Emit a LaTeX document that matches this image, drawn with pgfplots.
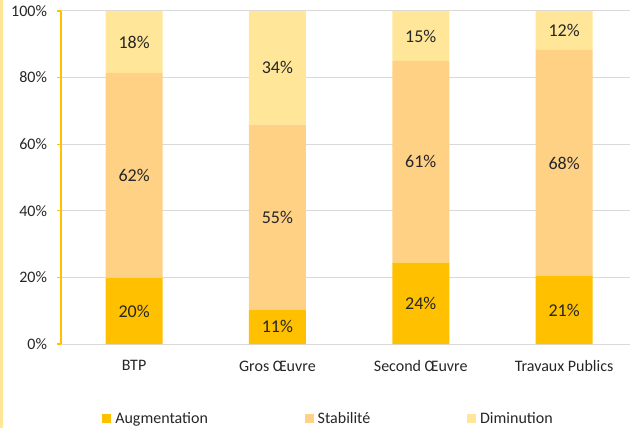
\documentclass[border=0pt]{standalone}
\usepackage{pgfplots}
\usepackage{pgfplotstable}
\pgfplotsset{compat=1.18}
\usepackage{fontspec}
\setmainfont{Carlito}
\definecolor{aug}{HTML}{FFC000}
\definecolor{stab}{HTML}{FFD185}
\definecolor{dim}{HTML}{FFE699}
\definecolor{gridc}{HTML}{D9D9D9}
\definecolor{txt}{HTML}{262626}
\pgfplotstableread{
x aug laug stab lstab dim ldim
0 19.8 20 61.6 62 18.6 18
1 10.3 11 55.6 55 34.1 34
2 24.4 24 60.6 61 15.0 15
3 20.4 21 67.9 68 11.7 12
}\data
\pgfplotsset{common/.style={
  at={(45.75pt,63pt)}, anchor=south west,
  scale only axis, width=426.75pt, height=249.75pt,
  xmin=-0.51, xmax=3.46, ymin=0, ymax=100,
  enlargelimits=false,
  /pgf/number format/assume math mode=true}}
\begin{document}
\begin{tikzpicture}
\path[use as bounding box] (0,0) rectangle (472.5pt,321pt);
\fill[dim] (0,0) rectangle (2.4pt,321pt);
\begin{axis}[
  common,
  ybar stacked, bar width=42.75pt,
  xtick={0,1,2,3},
  xticklabels={BTP, Gros Œuvre, Second Œuvre, Travaux Publics},
  ytick={0,20,...,100},
  yticklabel={\pgfmathprintnumber{\tick}\%},
  ymajorgrids, grid style={gridc, line width=0.75pt},
  axis y line*=left, axis x line*=bottom,
  x axis line style={gridc, line width=0.75pt},
  y axis line style={aug, line width=1.2pt},
  xtick style={draw=none},
  ytick style={aug, line width=1pt},
  major tick length=3pt, tick align=outside,
  tick label style={font=\fontsize{12}{14}\selectfont, text=txt},
  yticklabel style={xshift=-4pt},
  xticklabel style={yshift=-6pt},
  legend columns=3,
  legend style={at={(rel axis cs:0.072,-0.225)}, anchor=west, draw=none, fill=none, inner sep=0pt,
    nodes={inner sep=0pt, font=\fontsize{12}{14}\selectfont, text=txt},
    /tikz/every odd column/.append style={column sep=3pt},
    /tikz/every even column/.append style={column sep=72.5pt}},
  legend image code/.code={\fill[#1, draw=none] (0pt,-3.4pt) rectangle (6.8pt,3.4pt);},
]
\addplot[fill=aug, draw=none] table[x=x, y=aug] {\data};
\addplot[fill=stab, draw=none] table[x=x, y=stab] {\data};
\addplot[fill=dim, draw=none] table[x=x, y=dim] {\data};
\legend{Augmentation, Stabilité, Diminution}
\end{axis}
\begin{axis}[
  common, hide axis,
  point meta=explicit,
  nodes near coords={\pgfmathprintnumber[fixed,precision=0]{\pgfplotspointmeta}\%},
  every node near coord/.append style={anchor=center, font=\fontsize{13.5}{15}\selectfont, text=txt},
]
\addplot[only marks, mark=none] table[x=x, y expr=\thisrow{aug}/2, meta=laug] {\data};
\addplot[only marks, mark=none] table[x=x, y expr=\thisrow{aug}+\thisrow{stab}/2, meta=lstab] {\data};
\addplot[only marks, mark=none] table[x=x, y expr=\thisrow{aug}+\thisrow{stab}+\thisrow{dim}/2, meta=ldim] {\data};
\end{axis}
\end{tikzpicture}
\end{document}
